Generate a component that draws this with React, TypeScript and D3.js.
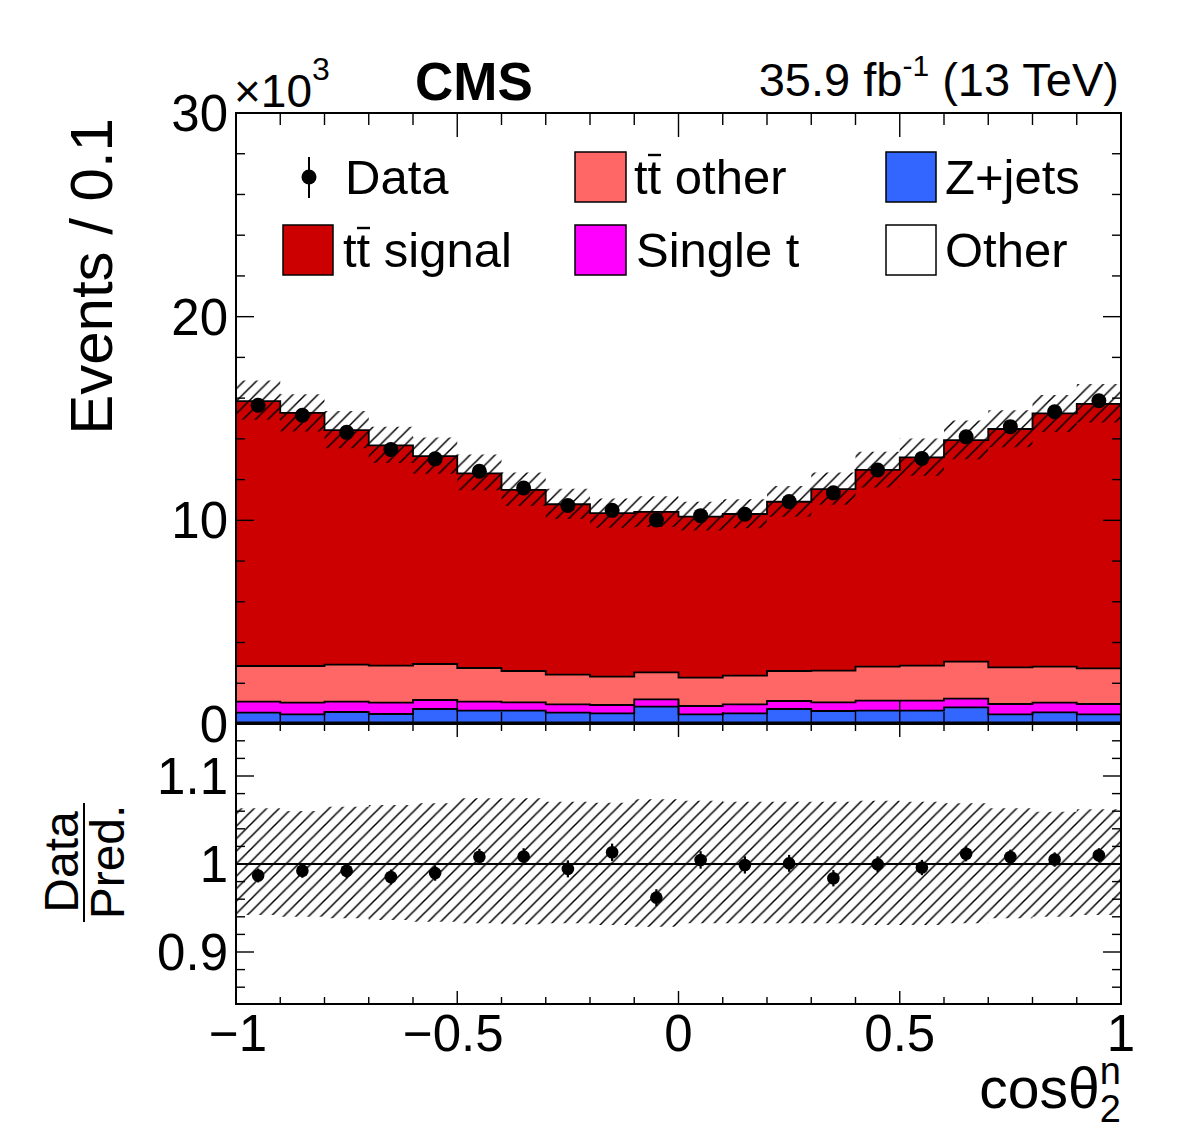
import React from 'react';
import * as d3 from 'd3';

// Binning of cos(theta_2^n): 20 bins of width 0.1
const binLow = [-1.0, -0.9, -0.8, -0.7, -0.6, -0.5, -0.4, -0.3, -0.2, -0.1, 0.0, 0.1, 0.2, 0.3, 0.4, 0.5, 0.6, 0.7, 0.8, 0.9];
const binWidth = 0.1;

// Stacked predictions, in thousands of events per bin
const other = [0.08, 0.08, 0.08, 0.08, 0.08, 0.08, 0.08, 0.08, 0.08, 0.08, 0.08, 0.08, 0.08, 0.08, 0.08, 0.08, 0.08, 0.08, 0.08, 0.08];
const zJets = [0.475, 0.396, 0.509, 0.411, 0.656, 0.573, 0.573, 0.475, 0.445, 0.769, 0.396, 0.445, 0.656, 0.558, 0.573, 0.573, 0.74, 0.396, 0.494, 0.396];
const singleT = [0.54, 0.57, 0.506, 0.555, 0.442, 0.442, 0.412, 0.412, 0.408, 0.364, 0.408, 0.442, 0.393, 0.427, 0.491, 0.491, 0.422, 0.506, 0.472, 0.506];
const ttOther = [1.752, 1.801, 1.816, 1.816, 1.768, 1.654, 1.537, 1.453, 1.389, 1.325, 1.389, 1.404, 1.473, 1.552, 1.669, 1.718, 1.816, 1.802, 1.767, 1.752];
const ttSignal = [13.01, 12.43, 11.52, 10.82, 10.21, 9.56, 8.89, 8.37, 8.03, 7.88, 7.91, 7.94, 8.31, 8.92, 9.66, 10.23, 10.88, 11.7, 12.44, 12.98];

// Observed events (thousands) and their statistical uncertainty
const dataVals = [15.65, 15.16, 14.32, 13.48, 13.02, 12.41, 11.59, 10.73, 10.49, 10.02, 10.23, 10.3, 10.92, 11.35, 12.47, 13.04, 14.1, 14.6, 15.33, 15.87];
const dataErr = [0.125, 0.123, 0.12, 0.116, 0.114, 0.111, 0.108, 0.104, 0.102, 0.1, 0.101, 0.101, 0.105, 0.107, 0.112, 0.114, 0.119, 0.121, 0.124, 0.126];

// Relative uncertainty of the prediction (up / down)
const sysUp = [0.0633, 0.0602, 0.0651, 0.067, 0.0689, 0.0746, 0.0746, 0.0708, 0.0697, 0.0735, 0.0719, 0.0708, 0.0708, 0.0708, 0.0719, 0.0708, 0.069, 0.0633, 0.0594, 0.0621];
const sysDown = [0.058, 0.06, 0.0617, 0.0636, 0.0656, 0.0674, 0.0685, 0.0674, 0.0693, 0.0712, 0.0674, 0.0674, 0.0674, 0.0674, 0.0693, 0.0693, 0.0674, 0.0617, 0.06, 0.058];

// Axis tick labels
const xTickVals = [-1, -0.5, 0, 0.5, 1];
const xTickLabels = ['\u22121', '\u22120.5', '0', '0.5', '1'];
const yTickVals = [0, 10, 20, 30];
const yTickLabels = ['0', '10', '20', '30'];
const rTickVals = [0.9, 1.0, 1.1];
const rTickLabels = ['0.9', '1', '1.1'];

const FONT = '"Liberation Sans", Arial, Helvetica, sans-serif';

const L = 236, R = 1121, T = 113, MB = 724, RB = 1004;

export default function App() {
  const x = d3.scaleLinear().domain([-1, 1]).range([L, R]);
  const y = d3.scaleLinear().domain([0, 30]).range([MB, T]);
  const yr = d3.scaleLinear().domain([1 - 140 / 880, 1 + 140 / 880]).range([RB, MB]);

  const layers = [
    { name: 'Other', vals: other, color: '#ffffff' },
    { name: 'Z+jets', vals: zJets, color: '#3366ff' },
    { name: 'Single t', vals: singleT, color: '#ff00ff' },
    { name: 'tt other', vals: ttOther, color: '#ff6666' },
    { name: 'tt signal', vals: ttSignal, color: '#cc0000' },
  ];

  // cumulative stack
  let base = binLow.map(() => 0);
  const stacked = layers.map((l) => {
    const lo = base.slice();
    const hi = base.map((b, i) => b + l.vals[i]);
    base = hi;
    return { ...l, lo, hi };
  });
  const total = base;
  const ratio = dataVals.map((d, i) => d / total[i]);
  const ratioErr = dataErr.map((e, i) => e / total[i]);

  // step points: one per bin plus closing edge
  const stepPts = (lo: number[], hi: number[]) => {
    const pts = binLow.map((b, i) => ({ x: b, lo: lo[i], hi: hi[i] }));
    const n = binLow.length - 1;
    pts.push({ x: binLow[n] + binWidth, lo: lo[n], hi: hi[n] });
    return pts;
  };

  const areaMain = d3
    .area<{ x: number; lo: number; hi: number }>()
    .x((d) => x(d.x))
    .y0((d) => y(d.lo))
    .y1((d) => y(d.hi))
    .curve(d3.curveStepAfter);
  const lineMain = d3
    .line<{ x: number; lo: number; hi: number }>()
    .x((d) => x(d.x))
    .y((d) => y(d.hi))
    .curve(d3.curveStepAfter);
  const areaRatio = d3
    .area<{ x: number; lo: number; hi: number }>()
    .x((d) => x(d.x))
    .y0((d) => yr(d.lo))
    .y1((d) => yr(d.hi))
    .curve(d3.curveStepAfter);

  const bandMain = stepPts(
    total.map((t, i) => t * (1 - sysDown[i])),
    total.map((t, i) => t * (1 + sysUp[i]))
  );
  const bandRatio = stepPts(
    sysDown.map((s) => 1 - s),
    sysUp.map((s) => 1 + s)
  );

  const xMinor = x.ticks(20);
  const yMinor = y.ticks(15);
  const rMinor = yr.ticks(16);

  const centers = binLow.map((b) => b + binWidth / 2);

  const ticks: React.ReactNode[] = [];
  // main panel x ticks (bottom and top) and ratio panel x ticks
  xMinor.forEach((v, i) => {
    const major = xTickVals.some((m) => Math.abs(m - v) < 1e-9);
    const len = major ? 24 : 12;
    ticks.push(<line key={`mxb${i}`} x1={x(v)} x2={x(v)} y1={MB} y2={MB - len} />);
    ticks.push(<line key={`mxt${i}`} x1={x(v)} x2={x(v)} y1={T} y2={T + len} />);
    const rl = major ? 13 : 7;
    ticks.push(<line key={`rxb${i}`} x1={x(v)} x2={x(v)} y1={RB} y2={RB - rl} />);
    ticks.push(<line key={`rxt${i}`} x1={x(v)} x2={x(v)} y1={MB} y2={MB + rl} />);
  });
  yMinor.forEach((v, i) => {
    const major = yTickVals.includes(v);
    const len = major ? 18 : 9;
    ticks.push(<line key={`myl${i}`} x1={L} x2={L + len} y1={y(v)} y2={y(v)} />);
    ticks.push(<line key={`myr${i}`} x1={R} x2={R - len} y1={y(v)} y2={y(v)} />);
  });
  rMinor.forEach((v, i) => {
    const major = rTickVals.some((m) => Math.abs(m - v) < 1e-9);
    const len = major ? 18 : 9;
    ticks.push(<line key={`ryl${i}`} x1={L} x2={L + len} y1={yr(v)} y2={yr(v)} />);
    ticks.push(<line key={`ryr${i}`} x1={R} x2={R - len} y1={yr(v)} y2={yr(v)} />);
  });

  const legendFs = 49;

  return (
    <svg
      width={1182}
      height={1134}
      style={{ position: 'absolute', left: 0, top: 0, background: '#fff' }}
      fontFamily={FONT}
    >
      <defs>
        <pattern id="hatch" patternUnits="userSpaceOnUse" width={12.5} height={12.5}>
          <path d="M0,12.5 L12.5,0 M-3,3 L3,-3 M9.5,15.5 L15.5,9.5" stroke="#000" strokeWidth={1.5} />
        </pattern>
        <clipPath id="clipMain">
          <rect x={L} y={T} width={R - L} height={MB - T} />
        </clipPath>
        <clipPath id="clipRatio">
          <rect x={L} y={MB} width={R - L} height={RB - MB} />
        </clipPath>
      </defs>

      <rect x={0} y={0} width={1182} height={1134} fill="#fff" />

      {/* stacked predictions */}
      <g clipPath="url(#clipMain)">
        {stacked.map((s) => (
          <path key={`a-${s.name}`} d={areaMain(stepPts(s.lo, s.hi)) || ''} fill={s.color} />
        ))}
        {stacked.map((s) => (
          <path
            key={`l-${s.name}`}
            d={lineMain(stepPts(s.lo, s.hi)) || ''}
            fill="none"
            stroke="#000"
            strokeWidth={1.8}
          />
        ))}
        <path d={areaMain(bandMain) || ''} fill="url(#hatch)" />
      </g>

      {/* ratio panel band and reference line */}
      <g clipPath="url(#clipRatio)">
        <path d={areaRatio(bandRatio) || ''} fill="url(#hatch)" />
      </g>
      <line x1={L} x2={R} y1={yr(1)} y2={yr(1)} stroke="#000" strokeWidth={1.8} />

      {/* frames and ticks */}
      <g stroke="#000" strokeWidth={1.4}>{ticks}</g>
      <rect x={L} y={T} width={R - L} height={MB - T} fill="none" stroke="#000" strokeWidth={2} />
      <rect x={L} y={MB} width={R - L} height={RB - MB} fill="none" stroke="#000" strokeWidth={2} />

      {/* data points */}
      <g>
        {centers.map((c, i) => (
          <g key={`d${i}`}>
            <line
              x1={x(c)}
              x2={x(c)}
              y1={y(dataVals[i] - dataErr[i])}
              y2={y(dataVals[i] + dataErr[i])}
              stroke="#000"
              strokeWidth={2}
            />
            <circle cx={x(c)} cy={y(dataVals[i])} r={7.5} fill="#000" />
          </g>
        ))}
        {centers.map((c, i) => (
          <g key={`r${i}`}>
            <line
              x1={x(c)}
              x2={x(c)}
              y1={yr(ratio[i] - ratioErr[i])}
              y2={yr(ratio[i] + ratioErr[i])}
              stroke="#000"
              strokeWidth={2.2}
            />
            <circle cx={x(c)} cy={yr(ratio[i])} r={6.3} fill="#000" />
          </g>
        ))}
      </g>

      {/* tick labels */}
      <g fontSize={51} fill="#000">
        {yTickVals.map((v, i) => (
          <text key={`yl${i}`} x={228} y={y(v) + 18} textAnchor="end">
            {yTickLabels[i]}
          </text>
        ))}
        {rTickVals.map((v, i) => (
          <text key={`rl${i}`} x={228} y={yr(v) + 18} textAnchor="end">
            {rTickLabels[i]}
          </text>
        ))}
        {xTickVals.map((v, i) => (
          <text key={`xl${i}`} x={x(v) + (i === 0 ? 2 : i === 1 ? -4 : 0)} y={1051} textAnchor="middle">
            {xTickLabels[i]}
          </text>
        ))}
      </g>

      {/* exponent */}
      <text x={234} y={107} fontSize={46}>
        {'\u00d710'}
        <tspan dy={-27} fontSize={32}>3</tspan>
      </text>

      {/* axis titles */}
      <text transform="translate(112,118) rotate(-90)" textAnchor="end" fontSize={60}>
        Events / 0.1
      </text>
      <g transform="translate(0,862)">
        <text transform="translate(78,0) rotate(-90)" textAnchor="middle" fontSize={48}>
          Data
        </text>
        <line x1={84} x2={84} y1={-59} y2={60} stroke="#000" strokeWidth={2} />
        <text transform="translate(124,0) rotate(-90)" textAnchor="middle" fontSize={48}>
          Pred.
        </text>
      </g>
      <text x={1121} y={1108} textAnchor="end" fontSize={57}>
        {'cos\u03b8'}
        <tspan fontSize={38} dy={14}>2</tspan>
        <tspan fontSize={38} dx={-21} dy={-38}>n</tspan>
      </text>

      {/* header */}
      <text x={415} y={100} fontSize={53} fontWeight="bold">
        CMS
      </text>
      <text x={1119} y={96} textAnchor="end" fontSize={47}>
        {'35.9 fb'}
        <tspan fontSize={30} dy={-20}>{'-1'}</tspan>
        <tspan dy={20}>{' (13 TeV)'}</tspan>
      </text>

      {/* legend */}
      <g fontSize={legendFs}>
        {/* Data */}
        <line x1={309} x2={309} y1={157} y2={198} stroke="#000" strokeWidth={2} />
        <circle cx={309} cy={177} r={7.5} fill="#000" />
        <text x={345} y={194}>Data</text>

        {/* tt other */}
        <rect x={575} y={152} width={51} height={50} fill="#ff6666" stroke="#000" strokeWidth={1.5} />
        <text x={634} y={194}>tt other</text>
        <line x1={648} x2={661} y1={155} y2={155} stroke="#000" strokeWidth={2.4} />

        {/* Z+jets */}
        <rect x={886} y={152} width={50} height={50} fill="#3366ff" stroke="#000" strokeWidth={1.5} />
        <text x={945} y={194}>Z+jets</text>

        {/* tt signal */}
        <rect x={283} y={225} width={50} height={50} fill="#cc0000" stroke="#000" strokeWidth={1.5} />
        <text x={343} y={267}>tt signal</text>
        <line x1={357} x2={370} y1={228} y2={228} stroke="#000" strokeWidth={2.4} />

        {/* Single t */}
        <rect x={575} y={225} width={51} height={50} fill="#ff00ff" stroke="#000" strokeWidth={1.5} />
        <text x={636} y={267}>Single t</text>

        {/* Other */}
        <rect x={886} y={225} width={50} height={50} fill="#ffffff" stroke="#000" strokeWidth={1.5} />
        <text x={945} y={267}>Other</text>
      </g>
    </svg>
  );
}
